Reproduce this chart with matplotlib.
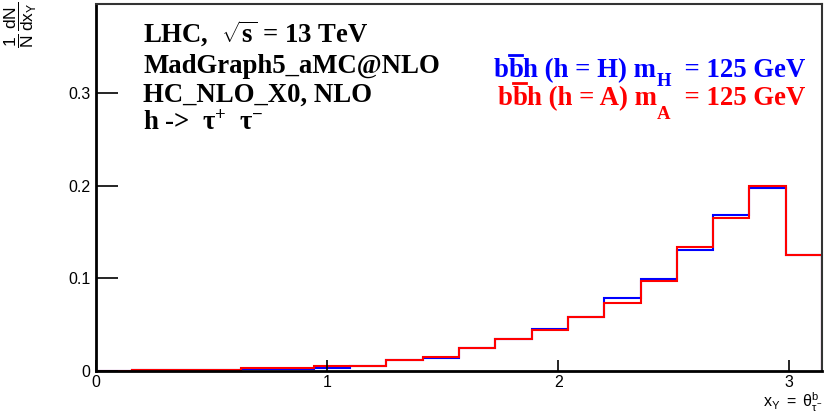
import numpy as np
import matplotlib
matplotlib.use("Agg")
import matplotlib.pyplot as plt
from matplotlib.lines import Line2D

plt.rcParams['font.family'] = ['Liberation Sans', 'DejaVu Sans']
plt.rcParams['mathtext.fontset'] = 'custom'
plt.rcParams['mathtext.rm'] = 'Liberation Sans'
plt.rcParams['mathtext.it'] = 'Liberation Sans:italic'
plt.rcParams['mathtext.bf'] = 'Liberation Serif:bold'
plt.rcParams['mathtext.default'] = 'rm'

# Data: 20 bins over [0, pi]
n_bins = 20
x_max = np.pi
bin_edges = np.linspace(0, x_max, n_bins + 1)
h_H = [0.0000, 0.0014, 0.0015, 0.0015, 0.0020, 0.0020, 0.0032, 0.0054, 0.0115, 0.0140,
       0.0245, 0.0345, 0.0457, 0.0587, 0.0785, 0.0990, 0.1303, 0.1685, 0.1973, 0.1256]
h_A = [0.0000, 0.0014, 0.0016, 0.0016, 0.0036, 0.0036, 0.0054, 0.0056, 0.0115, 0.0151,
       0.0245, 0.0345, 0.0443, 0.0587, 0.0731, 0.0972, 0.1336, 0.1649, 0.1998, 0.1256]

x_ticks = [0, 1, 2, 3]
y_ticks = [0, 0.1, 0.2, 0.3]
y_tick_labels = ['0', '0.1', '0.2', '0.3']

W, H = 824, 417
fig = plt.figure(figsize=(W / 100, H / 100), dpi=100)
ax = fig.add_axes([96/W, 1 - 371/H, (822 - 96)/W, (371 - 4)/H])

ax.stairs(h_H, bin_edges, color='#0000ff', linewidth=1.5)
ax.stairs(h_A, bin_edges, color='#ff0000', linewidth=1.5)

ax.set_xlim(0, x_max)
ax.set_ylim(0, 0.3963)

ax.set_xticks(x_ticks)
ax.set_xticklabels([str(t) for t in x_ticks])
ax.set_yticks(y_ticks)
ax.set_yticklabels(y_tick_labels)
ax.tick_params(axis='y', direction='in', length=16, width=1.2, labelsize=11.5, pad=4)
ax.tick_params(axis='x', direction='in', length=8, width=1.2, labelsize=11.5, pad=3)
ax.minorticks_off()
for side in ['left', 'bottom']:
    ax.spines[side].set_linewidth(2)
for side in ['top', 'right']:
    ax.spines[side].set_linewidth(1.5)
    ax.spines[side].set_color('#333333')

# y label (rotated) at top-left
fig.text(21/W, 1 - 2/H, r'$\dfrac{1}{N}\,\dfrac{dN}{dx_{Y}}$', rotation=90,
         ha='center', va='top', fontsize=12.5)
# x label bottom-right
fig.text(822/W, 1 - 402/H, r'$x_{Y}\ =\ \theta^{b}_{\tau^{-}}$',
         ha='right', va='center', fontsize=11.5)

FS = 19.3
serif = dict(family='Liberation Serif', weight='bold', fontsize=FS, va='baseline')
fig.text(143/W, 1 - 43/H, r'LHC,  $\mathbf{\sqrt{s}}$ = 13 TeV', **serif)
fig.text(143/W, 1 - 73/H, 'MadGraph5_aMC@NLO', **serif)
fig.text(143/W, 1 - 102/H, 'HC_NLO_X0, NLO', **serif)
fig.text(143/W, 1 - 130/H, r'h ->  $\mathbf{\tau^{+}}$  $\mathbf{\tau^{-}}$', **serif)

renderer = fig.canvas.get_renderer()


def draw_pieces(x_right_px, base_px, pieces, color):
    arts = []
    for txt, size, dy, bar in pieces:
        t = fig.text(0, 1 - (base_px + dy) / H, txt, family='Liberation Serif',
                     weight='bold', fontsize=size, color=color, va='baseline', ha='left')
        arts.append(t)
    widths = [a.get_window_extent(renderer).width for a in arts]
    x = x_right_px - sum(widths)
    for a, w, p in zip(arts, widths, pieces):
        a.set_x(x / W)
        if p[3]:
            ybar = 1 - (base_px - 22) / H
            fig.add_artist(Line2D([(x + 1) / W, (x + w - 1) / W], [ybar, ybar],
                                  transform=fig.transFigure, color=color, linewidth=2))
        x += w


leg_H = [('b', FS, 0, False), ('b', FS, 0, True), ('h (h = H) m', FS, 0, False),
         ('H', FS * 0.7, 9, False), ('  = 125 GeV', FS, 0, False)]
leg_A = [('b', FS, 0, False), ('b', FS, 0, True), ('h (h = A) m', FS, 0, False),
         ('A', FS * 0.7, 14, False), ('  = 125 GeV', FS, 0, False)]
draw_pieces(805, 77, leg_H, '#0000ff')
draw_pieces(805, 105, leg_A, '#ff0000')

fig.savefig('out.png', dpi=100)
